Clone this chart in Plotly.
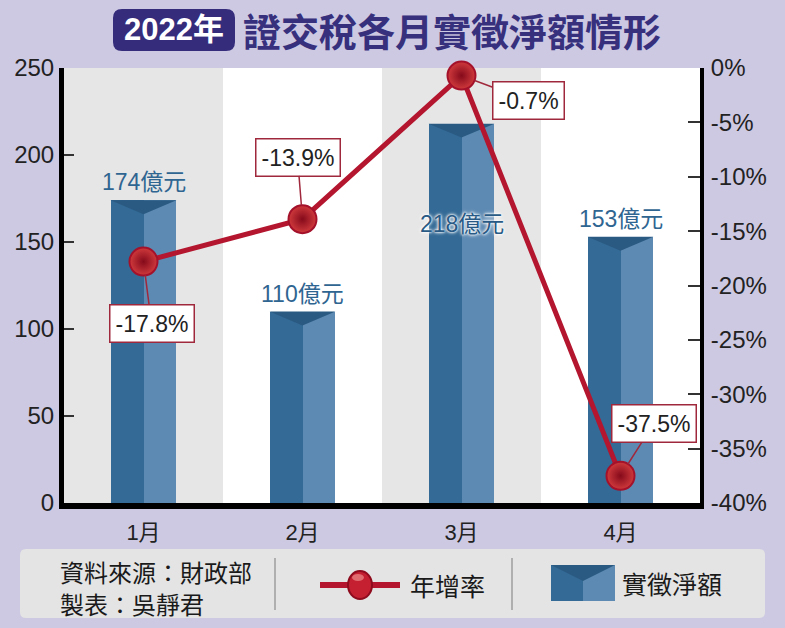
import plotly.graph_objects as go

# ---------------- data ----------------
months = ['1月', '2月', '3月', '4月']
amounts = [174, 110, 218, 153]          # 億元
growth = [-17.8, -13.9, -0.7, -37.5]    # %
amount_labels = [f'{v}億元' for v in amounts]
growth_labels = [f'{g:.1f}%' for g in growth]
left_ticks = [0, 50, 100, 150, 200, 250]
right_ticks = [0, -5, -10, -15, -20, -25, -30, -35, -40]
right_ticktext = [f'{t}%' for t in right_ticks]

# ---------------- layout geometry ----------------
W, H = 785, 628
L, R, T, B = 64, 85, 68, 125
PW, PH = W - L - R, H - T - B


def px(x):
    return (x - L) / PW


def py(y):
    return (H - B - y) / PH


def rrect(x0, y0, x1, y1, r):
    pts = [
        f'M {px(x0 + r)},{py(y0)}',
        f'L {px(x1 - r)},{py(y0)}',
        f'Q {px(x1)},{py(y0)} {px(x1)},{py(y0 + r)}',
        f'L {px(x1)},{py(y1 - r)}',
        f'Q {px(x1)},{py(y1)} {px(x1 - r)},{py(y1)}',
        f'L {px(x0 + r)},{py(y1)}',
        f'Q {px(x0)},{py(y1)} {px(x0)},{py(y1 - r)}',
        f'L {px(x0)},{py(y0 + r)}',
        f'Q {px(x0)},{py(y0)} {px(x0 + r)},{py(y0)} Z',
    ]
    return ' '.join(pts)


FONT = 'Liberation Sans, Arial, Noto Sans CJK TC, sans-serif'
CJK = 'Noto Sans CJK TC, Liberation Sans, sans-serif'
DARK_BLUE = '#336a96'
LIGHT_BLUE = '#5d8ab3'
NOTCH = '#2a5a82'
RED = '#b3162e'

xs = list(range(len(months)))
hw = 0.207
notch = 8.0

fig = go.Figure()

# bars: darker left half, lighter right half
fig.add_trace(go.Bar(x=xs, y=amounts, width=hw, offset=-hw,
                     marker=dict(color=DARK_BLUE, line=dict(width=0)),
                     hoverinfo='skip', showlegend=False))
fig.add_trace(go.Bar(x=xs, y=amounts, width=hw, offset=0,
                     marker=dict(color=LIGHT_BLUE, line=dict(width=0)),
                     hoverinfo='skip', showlegend=False))

# top notch of each bar
tx, ty = [], []
for i, v in zip(xs, amounts):
    tx += [i - hw, i + hw, i, i - hw, None]
    ty += [v, v, v - notch, v, None]
fig.add_trace(go.Scatter(x=tx, y=ty, mode='lines', fill='toself',
                         fillcolor=NOTCH, line=dict(width=0, color=NOTCH),
                         hoverinfo='skip', showlegend=False))

# growth line
fig.add_trace(go.Scatter(
    x=xs, y=growth, yaxis='y2', mode='lines+markers', cliponaxis=False,
    line=dict(color=RED, width=5),
    marker=dict(size=28, color='#d03a3c',
                gradient=dict(type='radial', color='#850a1b'),
                line=dict(color='#a3122a', width=2)),
    hoverinfo='skip', showlegend=False))

shapes = []
# alternating column backgrounds
for i in xs:
    if i % 2 == 0:
        shapes.append(dict(type='rect', xref='x', yref='paper', x0=i - 0.5, x1=i + 0.5,
                           y0=0, y1=1, fillcolor='#e6e6e6', line=dict(width=0), layer='below'))

# title box
shapes.append(dict(type='path', xref='paper', yref='paper', path=rrect(113, 9, 235, 51, 9),
                   fillcolor='#352c7b', line=dict(width=0)))
# legend box
shapes.append(dict(type='path', xref='paper', yref='paper', path=rrect(20, 549, 765, 618, 6),
                   fillcolor='#e4e4e4', line=dict(width=0)))
for sx in (275, 512):
    shapes.append(dict(type='line', xref='paper', yref='paper', x0=px(sx), x1=px(sx),
                       y0=py(558), y1=py(610), line=dict(color='#7a7a7a', width=1)))
# legend line icon
shapes.append(dict(type='line', xref='paper', yref='paper', x0=px(320), x1=px(400),
                   y0=py(585), y1=py(585), line=dict(color=RED, width=6)))
shapes.append(dict(type='circle', xref='paper', yref='paper', x0=px(348), x1=px(372),
                   y0=py(571), y1=py(599), fillcolor='#c42032', line=dict(color='#8f0b1e', width=2)))
shapes.append(dict(type='circle', xref='paper', yref='paper', x0=px(352), x1=px(364),
                   y0=py(574), y1=py(581), fillcolor='#e88080', line=dict(width=0), opacity=0.8))
# legend bar icon
shapes.append(dict(type='rect', xref='paper', yref='paper', x0=px(551), x1=px(583),
                   y0=py(565), y1=py(601), fillcolor=DARK_BLUE, line=dict(width=0)))
shapes.append(dict(type='rect', xref='paper', yref='paper', x0=px(583), x1=px(615),
                   y0=py(565), y1=py(601), fillcolor=LIGHT_BLUE, line=dict(width=0)))
shapes.append(dict(type='path', xref='paper', yref='paper',
                   path=f'M {px(551)},{py(565)} L {px(615)},{py(565)} L {px(583)},{py(581)} Z',
                   fillcolor=NOTCH, line=dict(width=0)))

annotations = []


def ptext(x, y, text, font, xanchor='center'):
    annotations.append(dict(xref='paper', yref='paper', x=px(x), y=py(y), text=text,
                            xanchor=xanchor, yanchor='middle', showarrow=False, font=font))


# titles
ptext(174, 30, '<b>2022年</b>', dict(family=FONT, size=31, color='white'))
ptext(452, 30, '<b>證交稅各月實徵淨額情形</b>', dict(family=CJK, size=38, color='#37307d'))
# legend texts
ptext(58, 571, '資料來源：財政部', dict(family=CJK, size=24, color='#1a1a1a'), 'left')
ptext(58, 603, '製表：吳靜君', dict(family=CJK, size=24, color='#1a1a1a'), 'left')
ptext(408, 585, '年增率', dict(family=CJK, size=25, color='#1a1a1a'), 'left')
ptext(620, 583, '實徵淨額', dict(family=CJK, size=25, color='#1a1a1a'), 'left')

# amount labels
for i, v, lab in zip(xs, amounts, amount_labels):
    if v == max(amounts):
        annotations.append(dict(xref='x', yref='y', x=i, y=v, xanchor='center', yanchor='middle',
                                yshift=-100, text=lab, showarrow=False,
                                font=dict(family=FONT, size=23, color='#285a85',
                                          shadow='0px 0px 2px white, 0px 0px 3px white, 0px 0px 4px white')))
    else:
        annotations.append(dict(xref='x', yref='y', x=i, y=v, xanchor='center', yanchor='bottom',
                                yshift=3, text=lab, showarrow=False,
                                font=dict(family=FONT, size=23, color='#2f6591')))

# growth callouts
offsets = [(8, 62), (-5, -62), (67, 25), (33, -52)]
for i, g, lab, (ax, ay) in zip(xs, growth, growth_labels, offsets):
    annotations.append(dict(xref='x', yref='y2', x=i, y=g, text=lab, showarrow=True,
                            ax=ax, ay=ay, arrowhead=0, arrowwidth=1.5, arrowcolor='#a0283c',
                            standoff=14, bordercolor='#a0283c', borderwidth=1.5, borderpad=5,
                            bgcolor='white', font=dict(family=FONT, size=23, color='#222')))

fig.update_layout(
    width=W, height=H,
    margin=dict(l=L, r=R, t=T, b=B, pad=0),
    paper_bgcolor='#cdc9e3', plot_bgcolor='white',
    barmode='overlay', bargap=0,
    showlegend=False,
    shapes=shapes, annotations=annotations,
    xaxis=dict(range=[-0.5, len(months) - 0.5], tickvals=xs, ticktext=months,
               showline=True, linecolor='black', linewidth=6, ticks='',
               showgrid=False, zeroline=False, ticklabelstandoff=5,
               tickfont=dict(family=FONT, size=22, color='#222')),
    yaxis=dict(range=[0, 250], tickvals=left_ticks, ticks='inside', ticklen=10,
               tickwidth=1.5, tickcolor='#333', showline=True, linecolor='black',
               linewidth=5, showgrid=False, zeroline=False, ticklabelstandoff=0,
               tickfont=dict(family=FONT, size=24, color='#222')),
    yaxis2=dict(range=[-40, 0], overlaying='y', side='right', tickvals=right_ticks,
                ticktext=right_ticktext, ticks='inside', ticklen=12, tickwidth=1.5,
                tickcolor='#333', showline=True, linecolor='black', linewidth=4,
                showgrid=False, zeroline=False, ticklabelstandoff=2,
                tickfont=dict(family=FONT, size=24, color='#222')),
)

fig.write_html('out.html', config={'displayModeBar': False},
               post_script="document.body.style.margin='0px';document.body.style.overflow='hidden';")
